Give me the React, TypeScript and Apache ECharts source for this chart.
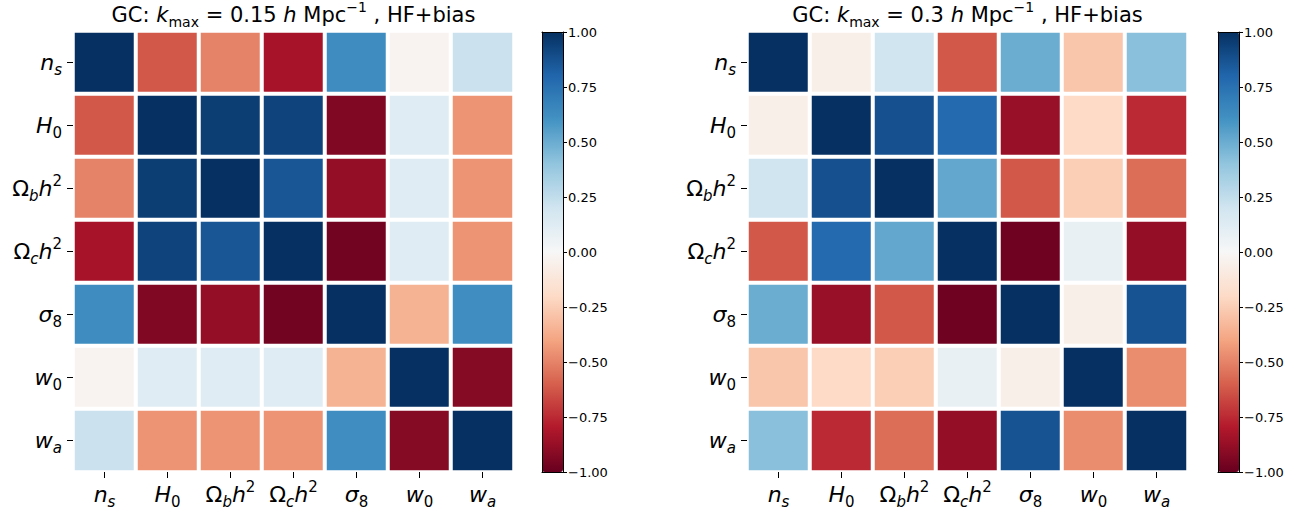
import React, { useEffect, useRef } from "react";
import * as echarts from "echarts";

const PARAMS = ["ns", "H0", "Obh2", "Och2", "s8", "w0", "wa"];
const PARAM_LABELS = [
  "{i|n}{si|s}",
  "{i|H}{su|0}",
  "{n|Ω}{si|b}{i|h}{sp|2}",
  "{n|Ω}{si|c}{i|h}{sp|2}",
  "{i|σ}{su|8}",
  "{i|w}{su|0}",
  "{i|w}{si|a}",
];

// kmax = 0.15
const CORR_015 = [
  [1.0, -0.62, -0.5, -0.83, 0.63, -0.03, 0.22],
  [-0.62, 1.0, 0.95, 0.93, -0.93, 0.12, -0.45],
  [-0.5, 0.95, 1.0, 0.86, -0.88, 0.12, -0.45],
  [-0.83, 0.93, 0.86, 1.0, -0.97, 0.12, -0.45],
  [0.63, -0.93, -0.88, -0.97, 1.0, -0.35, 0.62],
  [-0.03, 0.12, 0.12, 0.12, -0.35, 1.0, -0.92],
  [0.22, -0.45, -0.45, -0.45, 0.62, -0.92, 1.0],
];

// kmax = 0.3
const CORR_03 = [
  [1.0, -0.06, 0.2, -0.62, 0.5, -0.28, 0.42],
  [-0.06, 1.0, 0.88, 0.78, -0.87, -0.2, -0.75],
  [0.2, 0.88, 1.0, 0.52, -0.62, -0.25, -0.56],
  [-0.62, 0.78, 0.52, 1.0, -0.98, 0.08, -0.88],
  [0.5, -0.87, -0.62, -0.98, 1.0, -0.06, 0.87],
  [-0.28, -0.2, -0.25, 0.08, -0.06, 1.0, -0.47],
  [0.42, -0.75, -0.56, -0.88, 0.87, -0.47, 1.0],
];

const TITLES = [
  "{n|GC: }{i|k}{su|max}{n| = 0.15 }{i|h}{n| Mpc}{sp|−1}{n| , HF+bias}",
  "{n|GC: }{i|k}{su|max}{n| = 0.3 }{i|h}{n| Mpc}{sp|−1}{n| , HF+bias}",
];

const RDBU = [
  "#67001f", "#b2182b", "#d6604d", "#f4a582", "#fddbc7", "#f7f7f7",
  "#d1e5f0", "#92c5de", "#4393c3", "#2166ac", "#053061",
];

const FONT = "DejaVu Sans";

function richStyles(main: number, small: number) {
  const base = { fontFamily: FONT, color: "#000", fontWeight: "normal" };
  return {
    n: { ...base, fontSize: main, lineHeight: main + 8 },
    i: { ...base, fontSize: main, fontStyle: "italic", lineHeight: main + 8 },
    si: { ...base, fontSize: small, fontStyle: "italic", lineHeight: small + 1, verticalAlign: "bottom" },
    su: { ...base, fontSize: small, lineHeight: small + 1, verticalAlign: "bottom" },
    sp: { ...base, fontSize: small, lineHeight: small + 1, verticalAlign: "top" },
  };
}

function toData(m: number[][]) {
  const out: number[][] = [];
  m.forEach((row, r) => row.forEach((v, c) => out.push([c, r, v])));
  return out;
}

const fmtTick = (v: number) => (v < 0 ? "\u2212" : "") + Math.abs(v).toFixed(2);

export default function App() {
  const ref = useRef<HTMLDivElement>(null);
  useEffect(() => {
    if (!ref.current) return;
    const chart = echarts.init(ref.current, null, { renderer: "svg" });
    const heatLeft = [73, 747];
    const cbLeft = [542, 1218];
    const gridTop = 31;
    const gridSize = 441;
    const cbTop = 32;
    const cbH = 440;
    const cbW = 21;

    const grids: any[] = [];
    const xAxes: any[] = [];
    const yAxes: any[] = [];
    const series: any[] = [];
    const visualMaps: any[] = [];
    const titles: any[] = [];
    const labelRich = richStyles(22, 15);
    const tick = { show: true, inside: false, alignWithLabel: true, interval: 0, length: 6, lineStyle: { color: "#000", width: 1 } };
    const hiddenLine = { show: true, onZero: false, lineStyle: { color: "rgba(0,0,0,0)", width: 1 } };

    [0, 1].forEach((k) => {
      grids.push({ left: heatLeft[k], top: gridTop, width: gridSize, height: gridSize, containLabel: false });
      xAxes.push({
        type: "category",
        gridIndex: k,
        data: PARAMS,
        position: "bottom",
        z: 5,
        axisLine: hiddenLine,
        axisTick: tick,
        splitLine: { show: false },
        axisLabel: {
          interval: 0,
          margin: 7,
          formatter: (_v: string, idx: number) => PARAM_LABELS[idx],
          rich: labelRich,
        },
      });
      yAxes.push({
        type: "category",
        gridIndex: k,
        data: PARAMS,
        inverse: true,
        position: "left",
        z: 5,
        axisLine: hiddenLine,
        axisTick: tick,
        splitLine: { show: false },
        axisLabel: {
          interval: 0,
          margin: 11,
          formatter: (_v: string, idx: number) => PARAM_LABELS[idx],
          rich: labelRich,
        },
      });
      series.push({
        type: "heatmap",
        xAxisIndex: k,
        yAxisIndex: k,
        data: toData(k === 0 ? CORR_015 : CORR_03),
        itemStyle: { borderColor: "#ffffff", borderWidth: 4 },
        emphasis: { disabled: true },
      });
      visualMaps.push({
        type: "continuous",
        seriesIndex: k,
        min: -1,
        max: 1,
        calculable: false,
        orient: "vertical",
        left: cbLeft[k],
        top: cbTop,
        itemWidth: cbW,
        itemHeight: cbH,
        padding: 0,
        text: null,
        hoverLink: false,
        inRange: { color: RDBU },
      });
      titles.push({
        text: TITLES[k],
        left: heatLeft[k] + gridSize / 2,
        textAlign: "center",
        top: 0,
        padding: 0,
        textStyle: { fontWeight: "normal", rich: richStyles(21, 14) },
      });
    });

    // colorbar axes
    [0, 1].forEach((k) => {
      const gi = 2 + k;
      grids.push({ left: cbLeft[k], top: cbTop, width: cbW, height: cbH });
      const frameX = (pos: string) => ({
        type: "value",
        gridIndex: gi,
        min: 0,
        max: 1,
        position: pos,
        z: 10,
        axisLine: { show: true, onZero: false, lineStyle: { color: "#000", width: 1 } },
        axisTick: { show: false },
        axisLabel: { show: false },
        splitLine: { show: false },
      });
      xAxes.push(frameX("bottom"));
      xAxes.push(frameX("top"));
      yAxes.push({
        type: "value",
        gridIndex: gi,
        min: -1,
        max: 1,
        interval: 0.25,
        position: "right",
        z: 10,
        axisLine: { show: true, onZero: false, lineStyle: { color: "#000", width: 1 } },
        axisTick: { show: true, length: 4, lineStyle: { color: "#000", width: 1 } },
        splitLine: { show: false },
        axisLabel: {
          margin: 5,
          fontFamily: FONT,
          fontSize: 13,
          color: "#000",
          formatter: (v: number) => fmtTick(v),
        },
      });
      yAxes.push({
        type: "value",
        gridIndex: gi,
        min: -1,
        max: 1,
        position: "left",
        z: 10,
        axisLine: { show: true, onZero: false, lineStyle: { color: "#000", width: 1 } },
        axisTick: { show: false },
        axisLabel: { show: false },
        splitLine: { show: false },
      });
    });

    chart.setOption({
      animation: false,
      backgroundColor: "#ffffff",
      title: titles,
      grid: grids,
      xAxis: xAxes,
      yAxis: yAxes,
      visualMap: visualMaps,
      series,
    });
    return () => chart.dispose();
  }, []);
  return <div ref={ref} style={{ width: 1314, height: 514, position: "absolute", left: 0, top: 0 }} />;
}
